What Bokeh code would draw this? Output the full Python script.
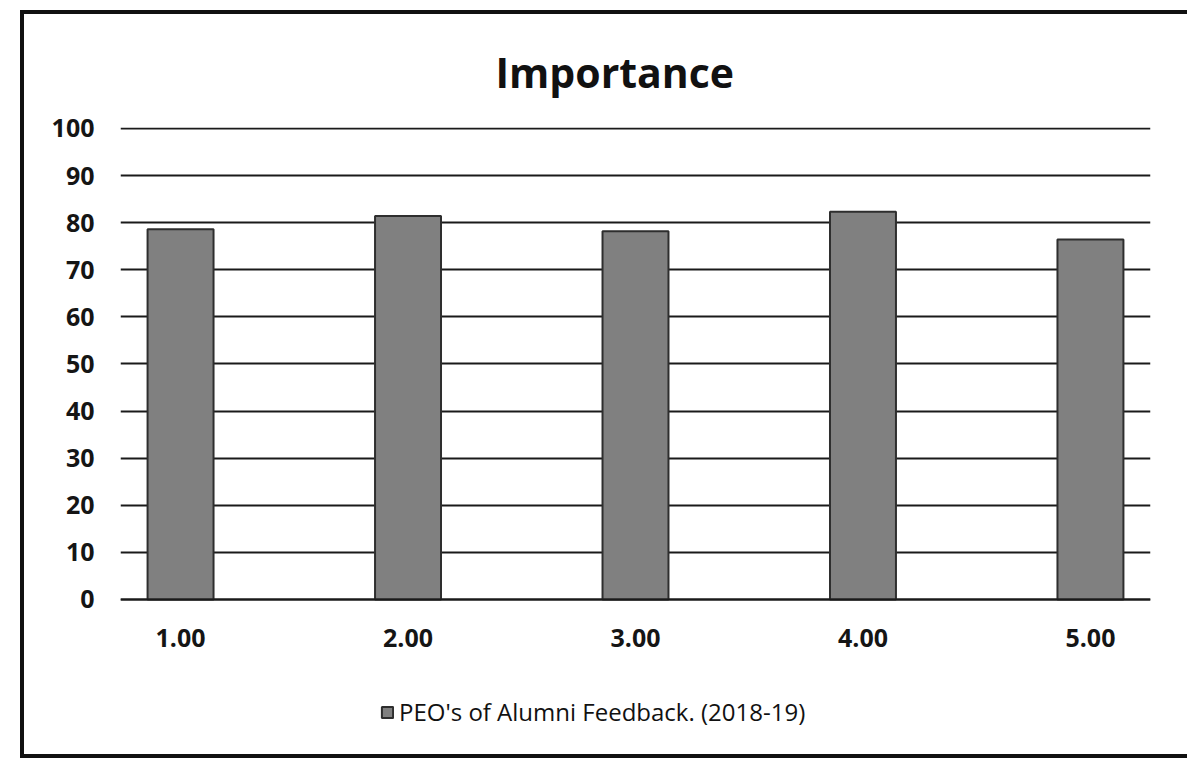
from bokeh.plotting import figure
from bokeh.models import Range1d, FixedTicker, Legend, LegendItem, ColumnDataSource
from bokeh.embed import file_html
from bokeh.resources import INLINE

# Data
categories = ["1.00", "2.00", "3.00", "4.00", "5.00"]
positions = [1, 2, 3, 4, 5]
importance = [78.6, 81.4, 78.2, 82.3, 76.4]
y_ticks = [0, 10, 20, 30, 40, 50, 60, 70, 80, 90, 100]
series_name = "PEO's of Alumni Feedback. (2018-19)"

FONT = "Open Sans"

source = ColumnDataSource(data=dict(x=positions, y=importance))

# the frame reaches down to the legend; the category axis sits at y = 0
p = figure(
    width=1167, height=748,
    x_range=Range1d(0.736, 5.264),
    y_range=Range1d(-32.7, 100.2),
    output_backend="svg",
    toolbar_location=None,
    min_border_left=96, min_border_right=41,
    min_border_top=113, min_border_bottom=9,
)
# thick black frame around the chart (runs off the right edge)
p.styles = {"border-top": "4px solid #111111", "border-left": "4px solid #111111",
            "border-bottom": "4px solid #111111",
            "margin-left": "20px", "margin-top": "10px"}

p.title.text = "Importance"
p.title.align = "left"
p.title.offset = 375
p.title.text_font = FONT
p.title.text_font_size = "41px"
p.title.text_font_style = "bold"
p.title.text_color = "#111111"
p.title.standoff = 55

p.outline_line_color = None
p.background_fill_color = "white"
p.border_fill_color = "white"

# Gridlines
p.xgrid.grid_line_color = None
p.ygrid.grid_line_color = "#1a1a1a"
p.ygrid.grid_line_width = 2
p.ygrid.ticker = FixedTicker(ticks=y_ticks)

# Y axis
p.yaxis.ticker = FixedTicker(ticks=y_ticks)
p.yaxis.axis_line_color = None
p.yaxis.major_tick_line_color = None
p.yaxis.minor_tick_line_color = None
p.yaxis.major_label_text_font = FONT
p.yaxis.major_label_text_font_size = "25px"
p.yaxis.major_label_text_font_style = "bold"
p.yaxis.major_label_text_color = "#151515"
p.yaxis.major_label_standoff = 20

# X axis, pinned to the zero line
p.xaxis.fixed_location = 0
p.xaxis.ticker = FixedTicker(ticks=positions)
p.xaxis.major_label_overrides = {pos: lab for pos, lab in zip(positions, categories)}
p.xaxis.axis_line_color = "#1a1a1a"
p.xaxis.axis_line_width = 2
p.xaxis.major_tick_line_color = None
p.xaxis.minor_tick_line_color = None
p.xaxis.major_label_text_font = FONT
p.xaxis.major_label_text_font_size = "25px"
p.xaxis.major_label_text_font_style = "bold"
p.xaxis.major_label_text_color = "#151515"
p.xaxis.major_label_standoff = 24

bars = p.vbar(x="x", top="y", bottom=0, width=0.29, source=source,
              fill_color="#808080", line_color="#2e2e2e", line_width=2)

legend = Legend(items=[LegendItem(label=series_name, renderers=[bars])],
                orientation="horizontal", location=(260, 25))
legend.label_text_font = FONT
legend.label_text_font_size = "24px"
legend.label_text_color = "#111111"
legend.glyph_width = 14
legend.glyph_height = 14
legend.border_line_color = None
legend.background_fill_alpha = 0
legend.margin = 0
legend.padding = 0
p.add_layout(legend)

open("out.html", "w").write(file_html(p, INLINE))
